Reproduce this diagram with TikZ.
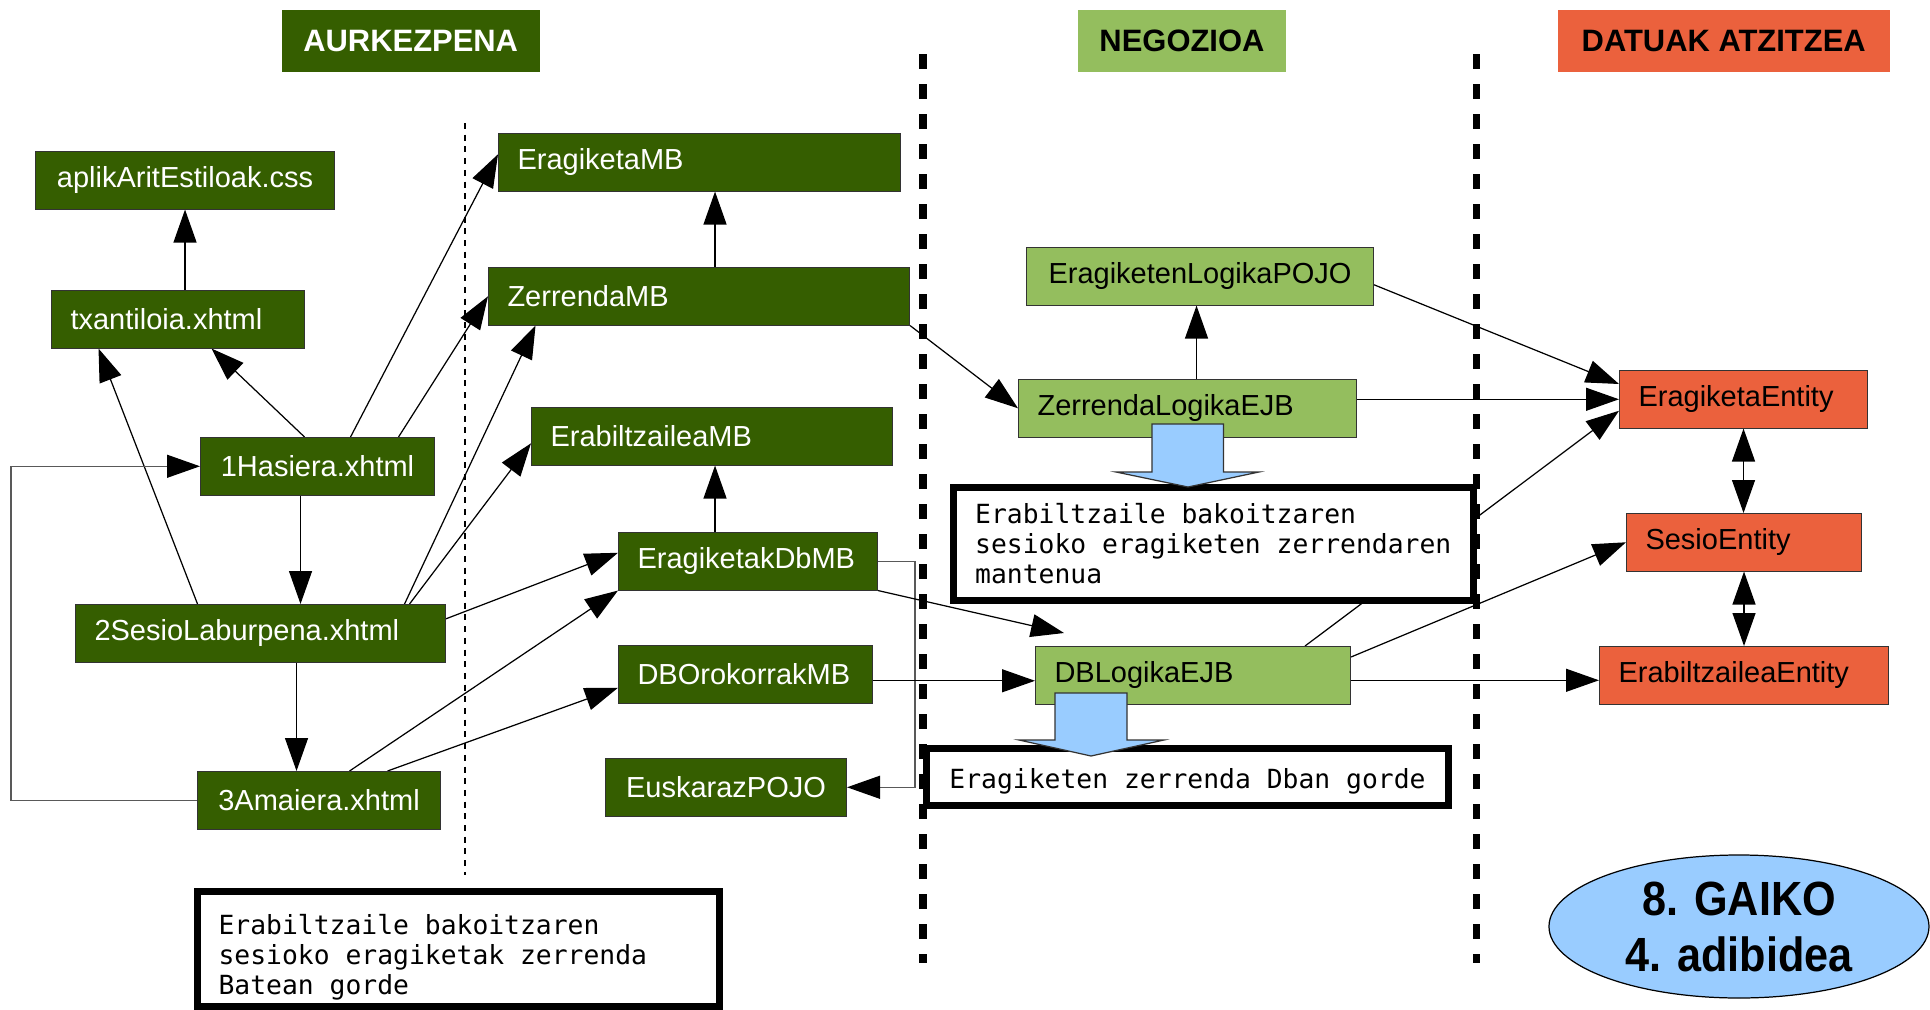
\documentclass[tikz,border=0pt]{standalone}
\usepackage{fontspec}
\setmainfont{Liberation Sans}
\newfontfamily\monofont{DejaVu Sans Mono}
\newfontfamily\ovalfont[FakeStretch=0.9]{Liberation Sans}
\usetikzlibrary{
    arrows.meta,
    backgrounds,
    shapes.geometric
}

\definecolor{presgreen}{RGB}{53,94,0}
\definecolor{neggreen}{RGB}{148,190,94}
\definecolor{datred}{RGB}{235,97,61}
\definecolor{skyblue}{RGB}{153,204,255}

\newcommand{\nodetextfont}{\fontsize{8.25}{9.9}\selectfont}
\newcommand{\headertextfont}{\fontsize{8.8}{10}\selectfont\bfseries}
\newcommand{\notetextfont}{\monofont\fontsize{7.5}{8.54}\selectfont}
\newcommand{\ovaltextfont}{\ovalfont\bfseries\fontsize{13.66}{15.93}\selectfont}

\begin{document}
\begin{tikzpicture}[x=1cm, y=-1cm,
    >={Triangle[length=3.3mm, width=2.3mm]},
    every node/.style={font=\nodetextfont},
    pres/.style={draw=black!80, line width=0.3pt, fill=presgreen, text=white,
                 anchor=north west, inner sep=0pt, minimum height=0.575cm},
    neg/.style={pres, fill=neggreen, text=black},
    dat/.style={pres, fill=datred, text=black},
    lft/.style={text width=#1, align=left, inner xsep=0.19cm},
    header/.style={anchor=north west, inner sep=0pt, minimum height=0.62cm,
                   font=\headertextfont},
    note/.style={draw, line width=2pt, fill=white, anchor=north west, align=left,
                 font=\notetextfont, inner ysep=0pt, inner xsep=0pt},
    oval/.style={ellipse, draw, line width=0.35pt, fill=skyblue, inner sep=0pt,
                 align=center, font=\ovaltextfont},
    link/.style={->, line width=0.35pt},
    greylink/.style={-{Triangle[length=3.3mm, width=2.3mm, black]}, line width=0.35pt, draw=black!65},
    sepdot/.style={line width=0.75pt, dash pattern=on 0.6mm off 0.57mm},
    sepdash/.style={line width=2pt, dash pattern=on 1.5mm off 1.5mm},
    bigarrow/.style={draw=black!80, line width=0.35pt, fill=skyblue}
]
    \useasboundingbox (0,0) rectangle (19.3,10.1);

    % goiburuak
    \node[header, fill=presgreen, text=white, minimum width=2.58cm] (aurk) at (2.81,0.09) {AURKEZPENA};
    \node[header, fill=neggreen, minimum width=2.075cm] (nego) at (10.775,0.09) {NEGOZIOA};
    \node[header, fill=datred, minimum width=3.32cm] (datu) at (15.57,0.09) {DATUAK ATZITZEA};

    % aurkezpena
    \node[pres, minimum width=2.99cm] (css) at (0.35,1.51) {aplikAritEstiloak.css};
    \node[pres, lft=2.15cm] (txant) at (0.51,2.90) {txantiloia.xhtml};
    \node[pres, minimum width=2.34cm] (hasiera) at (2.00,4.37) {1Hasiera.xhtml};
    \node[pres, lft=3.32cm] (sesio) at (0.75,6.04) {2SesioLaburpena.xhtml};
    \node[pres, minimum width=2.43cm] (amaiera) at (1.97,7.71) {3Amaiera.xhtml};
    \node[pres, lft=3.64cm] (eragmb) at (4.98,1.33) {EragiketaMB};
    \node[pres, lft=3.83cm] (zerrmb) at (4.88,2.67) {ZerrendaMB};
    \node[pres, lft=3.23cm] (erabmb) at (5.31,4.07) {ErabiltzaileaMB};
    \node[pres, lft=2.21cm] (dbmb) at (6.18,5.32) {EragiketakDbMB};
    \node[pres, lft=2.16cm] (dbor) at (6.18,6.45) {DBOrokorrakMB};
    \node[pres, minimum width=2.41cm] (eusk) at (6.05,7.58) {EuskarazPOJO};

    % negozioa
    \node[neg, minimum width=3.47cm] (pojo) at (10.26,2.47) {EragiketenLogikaPOJO};
    \node[neg, lft=3.00cm] (zlejb) at (10.18,3.79) {ZerrendaLogikaEJB};
    \node[neg, lft=2.77cm] (dblejb) at (10.35,6.46) {DBLogikaEJB};

    % datuak atzitzea
    \node[dat, lft=2.10cm] (eragent) at (16.19,3.70) {EragiketaEntity};
    \node[dat, lft=1.97cm] (sesent) at (16.26,5.13) {SesioEntity};
    \node[dat, lft=2.51cm] (erabent) at (15.99,6.46) {ErabiltzaileaEntity};

    % oharrak
    \node[note, minimum width=5.22cm, minimum height=1.15cm, text width=4.79cm, inner xsep=0.216cm]
        (ohar1) at (1.935,8.88) {\spaceskip=0pt\xspaceskip=0pt\rule{0pt}{0.36cm}Erabiltzaile bakoitzaren\\sesioko eragiketak zerrenda\\Batean gorde};
    \node[note, minimum width=5.195cm, minimum height=1.13cm]
        (ohar2) at (9.50,4.84) {Erabiltzaile bakoitzaren\\sesioko eragiketen zerrendaren\\mantenua};
    \node[note, minimum width=5.22cm, minimum height=0.565cm]
        (ohar3) at (9.23,7.45) {\rule{0pt}{0.3cm}Eragiketen zerrenda Dban gorde};

    \node[oval, minimum width=3.8cm, minimum height=1.43cm] (gaiko) at (17.39,9.265) {8. GAIKO\\4. adibidea};

    \begin{scope}[on background layer]
        % geruzen arteko marrak
        \draw[sepdot] (4.65,1.23) -- (4.65,8.75);
        \draw[sepdash] (9.23,0.54) -- (9.23,9.63);
        \draw[sepdash] (14.765,0.54) -- (14.765,9.63);

        \coordinate (h1) at ([xshift=-0.17cm]hasiera.south);
        \coordinate (s1) at ([xshift=0.36cm]sesio.south);
        \coordinate (z1) at ([xshift=0.16cm]zerrmb.north);
        \coordinate (d1) at ([xshift=-0.33cm]dbmb.north);
        \coordinate (o1) at ([yshift=-0.065cm]dbor.east);
        \coordinate (l1) at ([xshift=0.09cm]zlejb.north);
        \coordinate (b1) at ([yshift=-0.05cm]dblejb.east);

        % aurkezpena
        \draw[link] (txant.north -| css.south) -- (css.south);
        \draw[link] ([xshift=-0.13cm]hasiera.north) -- ([xshift=0.335cm]txant.south);
        \draw[link] ([xshift=-0.63cm]sesio.north) -- ([xshift=-0.795cm]txant.south);
        \draw[link] ([xshift=0.33cm]hasiera.north) -- ([yshift=0.08cm]eragmb.west);
        \draw[link] ([xshift=0.81cm]hasiera.north) -- (zerrmb.west);
        \draw[link] (h1) -- (h1 |- sesio.north);
        \draw[link] ([xshift=1.44cm]sesio.north) -- ([xshift=-1.635cm]zerrmb.south);
        \draw[link] ([xshift=1.49cm]sesio.north) -- ([yshift=-0.07cm]erabmb.west);
        \draw[link] ([yshift=0.145cm]sesio.east) -- ([yshift=0.085cm]dbmb.west);
        \draw[link] (s1) -- (s1 |- amaiera.north);
        \draw[link] ([xshift=0.305cm]amaiera.north) -- (dbmb.south west);
        \draw[link] ([xshift=0.685cm]amaiera.north) -- ([yshift=-0.135cm]dbor.west);
        \draw[greylink] (amaiera.west) -- ++(-1.86,0) |- (hasiera.west);
        \draw[link] (z1) -- (z1 |- eragmb.south);
        \draw[link] (d1) -- (d1 |- erabmb.south);
        \draw[greylink] (dbmb.east) -- ++(0.37,0) |- (eusk.east);

        % negoziora
        \draw[link] (zerrmb.south east) -- (zlejb.west);
        \draw[link] (dbmb.south east) -- ([xshift=0.29cm, yshift=0.13cm]dblejb.north west);
        \draw[link] (o1) -- (o1 -| dblejb.west);
        \draw[link] (l1) -- (l1 |- pojo.south);

        % datuetara
        \draw[link] ([yshift=-0.085cm]pojo.east) -- ([yshift=-0.14cm]eragent.north west);
        \draw[link] (zlejb.east |- eragent.west) -- (eragent.west);
        \draw[link] ([xshift=1.12cm]dblejb.north) -- ([yshift=-0.115cm]eragent.west);
        \draw[link] ([yshift=-0.11cm]dblejb.north east) -- (sesent.west);
        \draw[link] (b1) -- (b1 -| erabent.west);
        \draw[<->, line width=0.35pt] (eragent.south) -- (eragent.south |- sesent.north);
        \draw[<->, line width=0.35pt] (sesent.south) -- (sesent.south |- erabent.north);
    \end{scope}

    % gezi urdinak
    \draw[bigarrow] (11.52,4.24) -- (11.52,4.72) -- (11.16,4.72) -- (11.88,4.87)
        -- (12.59,4.72) -- (12.235,4.72) -- (12.235,4.24) -- cycle;
    \draw[bigarrow] (10.55,6.93) -- (10.55,7.40) -- (10.19,7.40) -- (10.91,7.56)
        -- (11.64,7.40) -- (11.27,7.40) -- (11.27,6.93) -- cycle;
\end{tikzpicture}
\end{document}
